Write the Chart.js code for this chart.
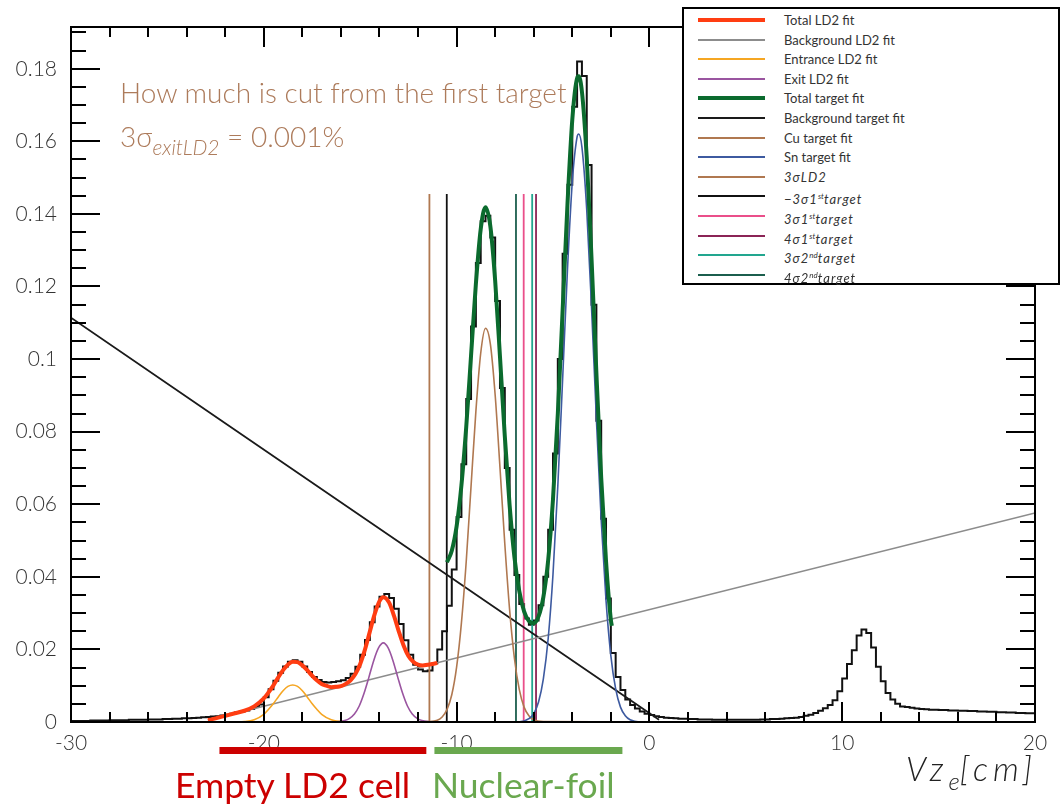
<!DOCTYPE html>
<html>
<head>
<meta charset="utf-8">
<script src="https://cdn.jsdelivr.net/npm/chart.js@4.4.0/dist/chart.umd.min.js"></script>
<style>
  body { margin: 0; background: #fff; }
  #wrap { position: relative; width: 1062px; height: 805px; overflow: hidden; font-family: Lato, 'Open Sans', sans-serif; }
  #chart { position: absolute; left: 0; top: 0; }
  .note { position: absolute; color: #ad7b5b; font-size: 28px; line-height: 1; white-space: nowrap; font-weight: 300; }
  .note sub { font-size: 21px; vertical-align: -8px; }
  #axisTitle { position: absolute; left: 906px; top: 752px; font-size: 33px; line-height: 1; font-style: italic; font-weight: 300; color: #222; letter-spacing: 5px; white-space: nowrap; }
  #axisTitle sub { font-size: 24px; vertical-align: -9px; letter-spacing: 0; }
  .range { position: absolute; top: 767px; font-size: 35.5px; line-height: 1; white-space: nowrap; }
  #legend { position: absolute; left: 682px; top: 7px; width: 374px; height: 274px; border: 2px solid #000; background: #fff; }
  .row { position: absolute; left: 0; height: 18px; width: 100%; }
  .row .swatch { position: absolute; left: 14px; width: 67px; top: 50%; }
  .row .label { position: absolute; left: 100px; top: 0; font-size: 13px; line-height: 18px; color: #333; white-space: nowrap; }
  .row .label i { letter-spacing: 1px; }
  .row .label sup { font-size: 8px; vertical-align: 5px; letter-spacing: 0; }
</style>
</head>
<body>
<div id="wrap">
  <canvas id="chart" width="1062" height="805"></canvas>
  <div class="note" style="left:120px; top:78px;">How much is cut from the first target</div>
  <div class="note" style="left:120px; top:122px;">3σ<sub><i>exitLD2</i></sub> = 0.001%</div>
  <div id="axisTitle">Vz<sub>e</sub>[cm]</div>
  <div class="range" style="left:175px; color:#cc0000;">Empty LD2 cell</div>
  <div class="range" style="left:432px; color:#6aa84f;">Nuclear-foil</div>
  <div id="legend"></div>
</div>
<script>
// Vertex z histogram with LD2 / nuclear target fits

// axis setup
const xTickValues = [-30, -20, -10, 0, 10, 20];
const xTickLabels = ['-30', '-20', '-10', '0', '10', '20'];
const yTickValues = [0, 0.02, 0.04, 0.06, 0.08, 0.1, 0.12, 0.14, 0.16, 0.18];
const yTickLabels = ['0', '0.02', '0.04', '0.06', '0.08', '0.1', '0.12', '0.14', '0.16', '0.18'];

// histogram: 200 bins of 0.25 cm from -30 to 20
const histLow = -30;
const binWidth = 0.25;
const histCounts = [
  0.0003, 0.0003, 0.0003, 0.0003, 0.0004, 0.0004, 0.0004, 0.0004, 0.0005, 0.0005, 0.0005, 0.0005, 0.0006, 0.0006, 0.0006, 0.0006, 0.0007, 0.0007, 0.0007, 0.0008,
  0.0008, 0.0009, 0.0009, 0.0010, 0.0010, 0.0011, 0.0012, 0.0013, 0.0014, 0.0015, 0.0016, 0.0018, 0.0020, 0.0023, 0.0026, 0.0029, 0.0032, 0.0036, 0.0041, 0.0048,
  0.0068, 0.0090, 0.0114, 0.0136, 0.0153, 0.0166, 0.0170, 0.0166, 0.0153, 0.0138, 0.0124, 0.0116, 0.0110, 0.0109, 0.0110, 0.0112, 0.0115, 0.0121, 0.0133, 0.0152,
  0.0185, 0.0226, 0.0275, 0.0318, 0.0345, 0.0353, 0.0342, 0.0312, 0.0270, 0.0225, 0.0185, 0.0158, 0.0145, 0.0140, 0.0142, 0.0162, 0.0200, 0.0250, 0.0320, 0.0420,
  0.0565, 0.0710, 0.0890, 0.1090, 0.1265, 0.1380, 0.1395, 0.1335, 0.1160, 0.0920, 0.0700, 0.0530, 0.0405, 0.0325, 0.0285, 0.0268, 0.0280, 0.0322, 0.0400, 0.0530,
  0.0740, 0.1000, 0.1290, 0.1480, 0.1695, 0.1820, 0.1780, 0.1535, 0.1150, 0.0830, 0.0560, 0.0340, 0.0190, 0.0124, 0.0088, 0.0062, 0.0047, 0.0037, 0.0029, 0.0023,
  0.0019, 0.0016, 0.0014, 0.0012, 0.0011, 0.0010, 0.0009, 0.0009, 0.0008, 0.0008, 0.0007, 0.0007, 0.0007, 0.0006, 0.0006, 0.0006, 0.0006, 0.0006, 0.0006, 0.0006,
  0.0006, 0.0006, 0.0006, 0.0007, 0.0007, 0.0008, 0.0008, 0.0009, 0.0010, 0.0011, 0.0012, 0.0014, 0.0017, 0.0020, 0.0025, 0.0031, 0.0038, 0.0047, 0.0060, 0.0085,
  0.0120, 0.0160, 0.0198, 0.0238, 0.0255, 0.0245, 0.0205, 0.0152, 0.0112, 0.0080, 0.0062, 0.0050, 0.0043, 0.0041, 0.0039, 0.0037, 0.0036, 0.0035, 0.0034, 0.0034,
  0.0033, 0.0033, 0.0032, 0.0032, 0.0031, 0.0031, 0.0030, 0.0030, 0.0029, 0.0029, 0.0028, 0.0028, 0.0027, 0.0027, 0.0026, 0.0026, 0.0025, 0.0025, 0.0024, 0.0024
];

// LD2 cell fits
const totalLd2X = [-22.9, -22.5, -22, -21.5, -21, -20.5, -20, -19.75, -19.5, -19.25, -19, -18.75, -18.5, -18.25, -18, -17.75, -17.5, -17.25, -17, -16.75, -16.5, -16.25, -16, -15.75, -15.5, -15.25, -15, -14.75, -14.5, -14.25, -14, -13.8, -13.5, -13.25, -13, -12.75, -12.5, -12.25, -12, -11.75, -11.5, -11.25, -11];
const totalLd2Y = [0.0005, 0.0010, 0.0017, 0.0024, 0.0031, 0.0043, 0.0065, 0.0082, 0.0101, 0.0123, 0.0143, 0.0158, 0.0166, 0.0165, 0.0156, 0.0143, 0.0128, 0.0115, 0.0105, 0.0100, 0.0096, 0.0097, 0.0099, 0.0105, 0.0115, 0.0132, 0.0160, 0.0200, 0.0249, 0.0297, 0.0333, 0.0344, 0.0329, 0.0293, 0.0250, 0.0211, 0.0182, 0.0166, 0.0158, 0.0156, 0.0158, 0.0160, 0.0163];
const bgLd2X = [-22.9, 20];
const bgLd2Y = [0.0005, 0.0576];
const entranceX = [-21.5, -21, -20.5, -20, -19.75, -19.5, -19.25, -19, -18.75, -18.5, -18.25, -18, -17.75, -17.5, -17.25, -17, -16.5, -16, -15.5];
const entranceY = [0, 0.0001, 0.0006, 0.0021, 0.0035, 0.0051, 0.0069, 0.0086, 0.0098, 0.0102, 0.0098, 0.0086, 0.0069, 0.0051, 0.0035, 0.0021, 0.0006, 0.0001, 0];
const exitX = [-16.3, -15.8, -15.55, -15.3, -15.05, -14.8, -14.55, -14.3, -14.05, -13.8, -13.55, -13.3, -13.05, -12.8, -12.55, -12.3, -12.05, -11.8, -11.3];
const exitY = [0, 0.0004, 0.0010, 0.0022, 0.0044, 0.0079, 0.0123, 0.0169, 0.0204, 0.0218, 0.0204, 0.0169, 0.0123, 0.0079, 0.0044, 0.0022, 0.0010, 0.0004, 0];

// nuclear target fits
const totalTargetX = [-10.5, -10.25, -10, -9.75, -9.5, -9.25, -9, -8.75, -8.5, -8.25, -8, -7.75, -7.5, -7.25, -7, -6.75, -6.5, -6.25, -6, -5.75, -5.5, -5.25, -5, -4.75, -4.5, -4.25, -4, -3.75, -3.67, -3.5, -3.25, -3, -2.75, -2.5, -2.25, -2, -1.95];
const totalTargetY = [0.0440, 0.0472, 0.0539, 0.0652, 0.0813, 0.1010, 0.1207, 0.1358, 0.1418, 0.1366, 0.1216, 0.1007, 0.0788, 0.0597, 0.0454, 0.0361, 0.0305, 0.0278, 0.0272, 0.0291, 0.0344, 0.0446, 0.0614, 0.0849, 0.1135, 0.1426, 0.1659, 0.1774, 0.1779, 0.1737, 0.1555, 0.1275, 0.0962, 0.0673, 0.0443, 0.0282, 0.0265];
const bgTargetX = [-30, 0.5];
const bgTargetY = [0.1114, 0.0006];
const cuX = [-12, -11.5, -11, -10.75, -10.5, -10.25, -10, -9.75, -9.5, -9.25, -9, -8.75, -8.5, -8.25, -8, -7.75, -7.5, -7.25, -7, -6.75, -6.5, -6.25, -6, -5.5, 0];
const cuY = [0, 0.0001, 0.0005, 0.0014, 0.0034, 0.0075, 0.0151, 0.0273, 0.0443, 0.0650, 0.0856, 0.1016, 0.1085, 0.1042, 0.0901, 0.0701, 0.0491, 0.0309, 0.0175, 0.0090, 0.0041, 0.0017, 0.0006, 0.0001, 0];
const snX = [-30, -7, -6.5, -6.25, -6, -5.75, -5.5, -5.25, -5, -4.75, -4.5, -4.25, -4, -3.75, -3.67, -3.5, -3.25, -3, -2.75, -2.5, -2.25, -2, -1.75, -1.5, -1.25, -1, -0.5, 20];
const snY = [0, 0, 0.0003, 0.0009, 0.0023, 0.0055, 0.0119, 0.0230, 0.0407, 0.0651, 0.0946, 0.1246, 0.1488, 0.1612, 0.1620, 0.1584, 0.1411, 0.1140, 0.0836, 0.0556, 0.0335, 0.0183, 0.0091, 0.0041, 0.0017, 0.0006, 0, 0];

// vertex cuts (3σLD2, -3σ 1st, 3σ 1st, 4σ 1st, 3σ 2nd, 4σ 2nd)
const cutNames = ['3σLD2', '-3σ1st', '3σ1st', '4σ1st', '3σ2nd', '4σ2nd'];
const cutX = [-11.41, -10.51, -6.52, -5.88, -6.08, -6.92];
const cutColors = ['#b07850', '#111111', '#ea4f8a', '#8b2456', '#22a68f', '#1b5e4d'];
const cutTop = 0.1455;

// region markers below the axis
const regionFrom = [-22.3, -11.15];
const regionTo = [-11.57, -1.4];
const regionColors = ['#cc0000', '#6aa84f'];

const legendLabels = [
  'Total LD2 fit', 'Background LD2 fit', 'Entrance LD2 fit', 'Exit LD2 fit',
  'Total target fit', 'Background target fit', 'Cu target fit', 'Sn target fit',
  '<i>3σLD2</i>', '<i>−3σ1<sup>st</sup>target</i>', '<i>3σ1<sup>st</sup>target</i>',
  '<i>4σ1<sup>st</sup>target</i>', '<i>3σ2<sup>nd</sup>target</i>', '<i>4σ2<sup>nd</sup>target</i>'
];
const legendColors = ['#ff3d12', '#8c8c8c', '#f5a623', '#9a55a0', '#0b6b2e', '#1a1a1a', '#b07850', '#3d5aa0',
  '#b07850', '#111111', '#ea4f8a', '#8b2456', '#22a68f', '#1b5e4d'];
const legendWidths = [4, 2, 2, 2, 4, 2, 2, 2, 2, 2, 2, 2, 2, 2];

function pairs(xs, ys) {
  return xs.map((v, i) => ({ x: v, y: ys[i] }));
}

function histPoints() {
  const pts = histCounts.map((c, i) => ({ x: histLow + i * binWidth, y: c }));
  pts.push({ x: histLow + histCounts.length * binWidth, y: histCounts[histCounts.length - 1] });
  return pts;
}

function curve(label, xs, ys, color, width, order) {
  return {
    label: label,
    data: pairs(xs, ys),
    borderColor: color,
    borderWidth: width,
    pointRadius: 0,
    fill: false,
    cubicInterpolationMode: 'monotone',
    order: order
  };
}

const datasets = [
  curve('Total LD2 fit', totalLd2X, totalLd2Y, '#ff3d12', 4, 1),
  curve('Total target fit', totalTargetX, totalTargetY, '#0b6b2e', 4, 2),
  curve('Sn target fit', snX, snY, '#3d5aa0', 1.6, 4),
  curve('Cu target fit', cuX, cuY, '#b07850', 1.6, 5),
  curve('Entrance LD2 fit', entranceX, entranceY, '#f5a623', 1.6, 5),
  curve('Exit LD2 fit', exitX, exitY, '#9a55a0', 1.6, 5),
  curve('Background LD2 fit', bgLd2X, bgLd2Y, '#8c8c8c', 1.6, 6),
  curve('Background target fit', bgTargetX, bgTargetY, '#1a1a1a', 1.8, 6)
];

cutX.forEach((cx, i) => {
  datasets.push(curve(cutNames[i], [cx, cx], [0, cutTop], cutColors[i], 1.8, 8));
});

datasets.push({
  label: 'Vz',
  data: histPoints(),
  borderColor: '#111111',
  borderWidth: 2,
  pointRadius: 0,
  fill: false,
  stepped: true,
  order: 20
});

// ROOT style frame: box plus inward ticks on all four sides
const rootFrame = {
  id: 'rootFrame',
  afterDatasetsDraw(chart) {
    const { ctx, chartArea: a, scales } = chart;
    const xs = scales.x, ys = scales.y;
    ctx.save();
    ctx.strokeStyle = '#000';
    ctx.lineWidth = 2;
    ctx.beginPath();
    for (let i = 0; i <= 25; i++) {
      const v = -30 + i * 2;
      const px = Math.round(xs.getPixelForValue(v));
      const len = v % 10 === 0 ? 20 : 10;
      ctx.moveTo(px, a.bottom); ctx.lineTo(px, a.bottom - len);
      ctx.moveTo(px, a.top); ctx.lineTo(px, a.top + len);
    }
    for (let i = 0; i <= 38; i++) {
      const py = Math.round(ys.getPixelForValue(i * 0.005));
      const len = i % 4 === 0 ? 29 : 15;
      ctx.moveTo(a.left, py); ctx.lineTo(a.left + len, py);
      ctx.moveTo(a.right, py); ctx.lineTo(a.right - len, py);
    }
    ctx.stroke();
    ctx.strokeRect(a.left, a.top, a.right - a.left, a.bottom - a.top);

    regionFrom.forEach((from, i) => {
      const x0 = xs.getPixelForValue(from);
      const x1 = xs.getPixelForValue(regionTo[i]);
      ctx.fillStyle = regionColors[i];
      ctx.fillRect(x0, a.bottom + 25, x1 - x0, 7);
    });
    ctx.restore();
  }
};

new Chart(document.getElementById('chart'), {
  type: 'line',
  data: { datasets: datasets },
  options: {
    responsive: false,
    animation: false,
    layout: { padding: { top: 27, right: 27, left: 0, bottom: 0 } },
    plugins: { legend: { display: false }, tooltip: { enabled: false } },
    scales: {
      x: {
        type: 'linear',
        min: -30,
        max: 20,
        grid: { display: false, drawTicks: false },
        border: { display: false },
        afterFit: s => { s.height = 83; },
        afterBuildTicks: s => { s.ticks = xTickValues.map(v => ({ value: v })); },
        ticks: {
          padding: 9,
          maxRotation: 0,
          autoSkip: false,
          color: '#333',
          font: { family: 'Lato', size: 21, weight: '300' },
          callback: (v) => xTickLabels[xTickValues.indexOf(v)]
        }
      },
      y: {
        type: 'linear',
        min: 0,
        max: 0.1915,
        grid: { display: false, drawTicks: false },
        border: { display: false },
        afterFit: s => { s.width = 71; },
        afterBuildTicks: s => { s.ticks = yTickValues.map(v => ({ value: v })); },
        ticks: {
          padding: 14,
          autoSkip: false,
          color: '#333',
          font: { family: 'Lato', size: 21, weight: '300' },
          callback: (v) => yTickLabels[yTickValues.indexOf(v)]
        }
      }
    }
  },
  plugins: [rootFrame]
});

// legend box
const legend = document.getElementById('legend');
legendLabels.forEach((text, i) => {
  const row = document.createElement('div');
  row.className = 'row';
  row.style.top = (2 + i * 19.6) + 'px';
  const sw = document.createElement('div');
  sw.className = 'swatch';
  sw.style.height = legendWidths[i] + 'px';
  sw.style.marginTop = (-legendWidths[i] / 2) + 'px';
  sw.style.background = legendColors[i];
  const lab = document.createElement('div');
  lab.className = 'label';
  lab.innerHTML = text;
  row.appendChild(sw);
  row.appendChild(lab);
  legend.appendChild(row);
});
</script>
</body>
</html>
